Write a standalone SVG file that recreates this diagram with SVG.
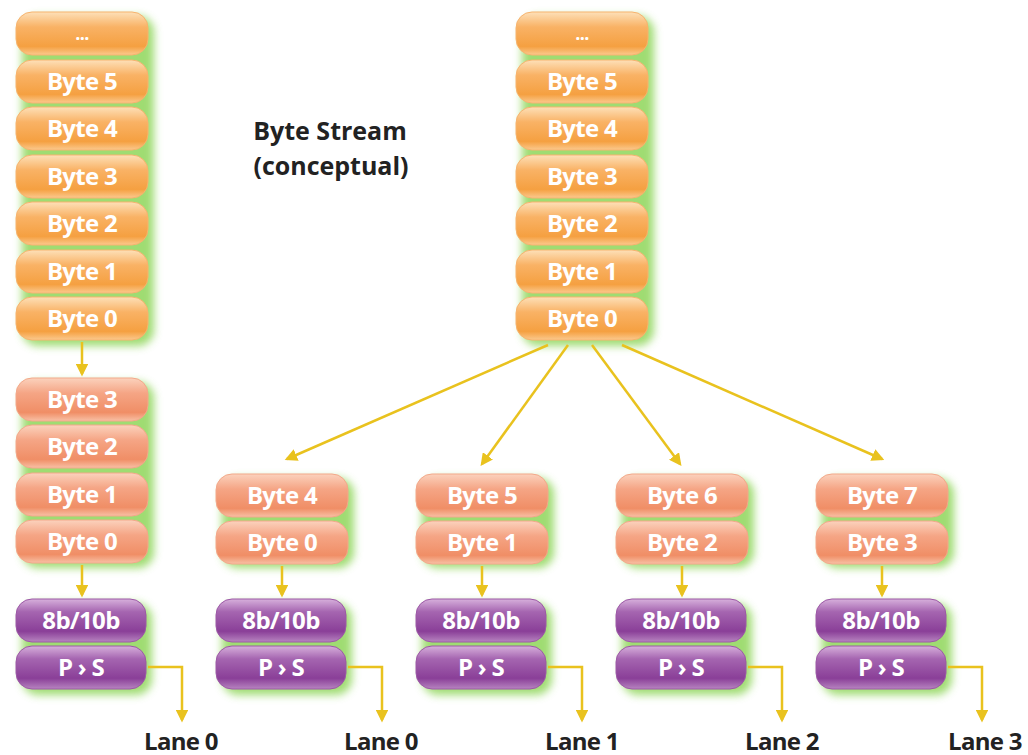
<svg xmlns="http://www.w3.org/2000/svg" width="1028" height="755" viewBox="0 0 1028 755">
<defs>
<linearGradient id="gOr" x1="0" y1="0" x2="0" y2="1">
<stop offset="0" stop-color="#fde0b8"/><stop offset="0.35" stop-color="#f9b265"/><stop offset="0.8" stop-color="#f5a041"/><stop offset="1" stop-color="#fbc98e"/>
</linearGradient>
<linearGradient id="gSa" x1="0" y1="0" x2="0" y2="1">
<stop offset="0" stop-color="#fbd2bd"/><stop offset="0.35" stop-color="#f5a585"/><stop offset="0.8" stop-color="#f08e66"/><stop offset="1" stop-color="#f8c0a5"/>
</linearGradient>
<linearGradient id="gPu" x1="0" y1="0" x2="0" y2="1">
<stop offset="0" stop-color="#d7b0dc"/><stop offset="0.3" stop-color="#a565b0"/><stop offset="0.75" stop-color="#8a3f98"/><stop offset="1" stop-color="#b784c0"/>
</linearGradient>
<filter id="blur" x="-20%" y="-20%" width="140%" height="140%"><feGaussianBlur stdDeviation="4"/></filter>
<marker id="ah" viewBox="0 0 10 10" refX="8" refY="5" markerWidth="5" markerHeight="5" orient="auto" markerUnits="strokeWidth">
<path d="M0,0 L10,5 L0,10 z" fill="#e9c21e"/>
</marker>
<style>
.glow{fill:#8fd65a;filter:url(#blur);opacity:.85}
.or{fill:url(#gOr);stroke:#f7b36e;stroke-width:1}
.sa{fill:url(#gSa);stroke:#f3a88a;stroke-width:1}
.pu{fill:url(#gPu);stroke:#9c58a6;stroke-width:1}
.pt{font-family:"Open Sans","Liberation Sans",sans-serif;font-weight:bold;font-size:24px;fill:#ffffff;text-anchor:middle;letter-spacing:-0.7px}
.lab{font-family:"Open Sans","Liberation Sans",sans-serif;font-weight:bold;font-size:24px;fill:#222;text-anchor:middle;letter-spacing:-0.7px}
.ttl{font-family:"Open Sans","Liberation Sans",sans-serif;font-weight:bold;font-size:25px;fill:#222;text-anchor:middle;letter-spacing:0px}
.con{stroke:#e9c21e;stroke-width:2.5;fill:none}
</style>
</defs>
<rect width="1028" height="755" fill="#ffffff"/>

<g id="glows">
<rect class="glow" x="22" y="16" width="132" height="330" rx="16"/>
<rect class="glow" x="522" y="16" width="132" height="330" rx="16"/>
<rect class="glow" x="22" y="382" width="132" height="186" rx="16"/>
<rect class="glow" x="222" y="478" width="132" height="90" rx="16"/>
<rect class="glow" x="422" y="478" width="132" height="90" rx="16"/>
<rect class="glow" x="622" y="478" width="132" height="90" rx="16"/>
<rect class="glow" x="822" y="478" width="132" height="90" rx="16"/>
<rect class="glow" x="22" y="603" width="130" height="92" rx="16"/>
<rect class="glow" x="222" y="603" width="130" height="92" rx="16"/>
<rect class="glow" x="422" y="603" width="130" height="92" rx="16"/>
<rect class="glow" x="622" y="603" width="130" height="92" rx="16"/>
<rect class="glow" x="822" y="603" width="130" height="92" rx="16"/>
</g>

<g id="stream-left">
<rect class="or" x="16" y="12" width="132" height="43" rx="16"/><text class="pt" x="82" y="40" style="font-size:18px">...</text>
<rect class="or" x="16" y="60" width="132" height="43" rx="16"/><text class="pt" x="82" y="90">Byte 5</text>
<rect class="or" x="16" y="107" width="132" height="43" rx="16"/><text class="pt" x="82" y="137">Byte 4</text>
<rect class="or" x="16" y="155" width="132" height="43" rx="16"/><text class="pt" x="82" y="185">Byte 3</text>
<rect class="or" x="16" y="202" width="132" height="43" rx="16"/><text class="pt" x="82" y="232">Byte 2</text>
<rect class="or" x="16" y="250" width="132" height="43" rx="16"/><text class="pt" x="82" y="280">Byte 1</text>
<rect class="or" x="16" y="297" width="132" height="43" rx="16"/><text class="pt" x="82" y="327">Byte 0</text>
</g>

<g id="stream-right">
<rect class="or" x="516" y="12" width="132" height="43" rx="16"/><text class="pt" x="582" y="40" style="font-size:18px">...</text>
<rect class="or" x="516" y="60" width="132" height="43" rx="16"/><text class="pt" x="582" y="90">Byte 5</text>
<rect class="or" x="516" y="107" width="132" height="43" rx="16"/><text class="pt" x="582" y="137">Byte 4</text>
<rect class="or" x="516" y="155" width="132" height="43" rx="16"/><text class="pt" x="582" y="185">Byte 3</text>
<rect class="or" x="516" y="202" width="132" height="43" rx="16"/><text class="pt" x="582" y="232">Byte 2</text>
<rect class="or" x="516" y="250" width="132" height="43" rx="16"/><text class="pt" x="582" y="280">Byte 1</text>
<rect class="or" x="516" y="297" width="132" height="43" rx="16"/><text class="pt" x="582" y="327">Byte 0</text>
</g>

<g id="title">
<text class="ttl" x="330" y="140">Byte Stream</text>
<text class="ttl" x="331" y="175">(conceptual)</text>
</g>

<g id="lane-left-bytes">
<rect class="sa" x="16" y="378" width="132" height="43" rx="16"/><text class="pt" x="82" y="408">Byte 3</text>
<rect class="sa" x="16" y="425" width="132" height="43" rx="16"/><text class="pt" x="82" y="455">Byte 2</text>
<rect class="sa" x="16" y="473" width="132" height="43" rx="16"/><text class="pt" x="82" y="503">Byte 1</text>
<rect class="sa" x="16" y="520" width="132" height="43" rx="16"/><text class="pt" x="82" y="550">Byte 0</text>
</g>

<g id="lane0-bytes">
<rect class="sa" x="216" y="474" width="132" height="43" rx="16"/><text class="pt" x="282" y="504">Byte 4</text>
<rect class="sa" x="216" y="521" width="132" height="43" rx="16"/><text class="pt" x="282" y="551">Byte 0</text>
</g>
<g id="lane1-bytes">
<rect class="sa" x="416" y="474" width="132" height="43" rx="16"/><text class="pt" x="482" y="504">Byte 5</text>
<rect class="sa" x="416" y="521" width="132" height="43" rx="16"/><text class="pt" x="482" y="551">Byte 1</text>
</g>
<g id="lane2-bytes">
<rect class="sa" x="616" y="474" width="132" height="43" rx="16"/><text class="pt" x="682" y="504">Byte 6</text>
<rect class="sa" x="616" y="521" width="132" height="43" rx="16"/><text class="pt" x="682" y="551">Byte 2</text>
</g>
<g id="lane3-bytes">
<rect class="sa" x="816" y="474" width="132" height="43" rx="16"/><text class="pt" x="882" y="504">Byte 7</text>
<rect class="sa" x="816" y="521" width="132" height="43" rx="16"/><text class="pt" x="882" y="551">Byte 3</text>
</g>

<g id="enc-left">
<rect class="pu" x="16" y="599" width="130" height="43" rx="16"/><text class="pt" x="81" y="629">8b/10b</text>
<rect class="pu" x="16" y="646" width="130" height="43" rx="16"/><text class="pt" x="81" y="676">P › S</text>
</g>
<g id="enc-0">
<rect class="pu" x="216" y="599" width="130" height="43" rx="16"/><text class="pt" x="281" y="629">8b/10b</text>
<rect class="pu" x="216" y="646" width="130" height="43" rx="16"/><text class="pt" x="281" y="676">P › S</text>
</g>
<g id="enc-1">
<rect class="pu" x="416" y="599" width="130" height="43" rx="16"/><text class="pt" x="481" y="629">8b/10b</text>
<rect class="pu" x="416" y="646" width="130" height="43" rx="16"/><text class="pt" x="481" y="676">P › S</text>
</g>
<g id="enc-2">
<rect class="pu" x="616" y="599" width="130" height="43" rx="16"/><text class="pt" x="681" y="629">8b/10b</text>
<rect class="pu" x="616" y="646" width="130" height="43" rx="16"/><text class="pt" x="681" y="676">P › S</text>
</g>
<g id="enc-3">
<rect class="pu" x="816" y="599" width="130" height="43" rx="16"/><text class="pt" x="881" y="629">8b/10b</text>
<rect class="pu" x="816" y="646" width="130" height="43" rx="16"/><text class="pt" x="881" y="676">P › S</text>
</g>

<g id="lane-labels">
<text class="lab" x="181" y="750">Lane 0</text>
<text class="lab" x="381" y="750">Lane 0</text>
<text class="lab" x="582" y="750">Lane 1</text>
<text class="lab" x="782" y="750">Lane 2</text>
<text class="lab" x="985" y="750">Lane 3</text>
</g>

<g id="connectors">
<path class="con" d="M82,342 V374" marker-end="url(#ah)"/>
<path class="con" d="M82,565 V595" marker-end="url(#ah)"/>
<path class="con" d="M282,566 V595" marker-end="url(#ah)"/>
<path class="con" d="M482,566 V595" marker-end="url(#ah)"/>
<path class="con" d="M682,566 V595" marker-end="url(#ah)"/>
<path class="con" d="M882,566 V595" marker-end="url(#ah)"/>
<path class="con" d="M548,345 L287,459" marker-end="url(#ah)"/>
<path class="con" d="M568,345 L482,464" marker-end="url(#ah)"/>
<path class="con" d="M592,345 L680,464" marker-end="url(#ah)"/>
<path class="con" d="M622,345 L882,459" marker-end="url(#ah)"/>
<path class="con" d="M148,667 H182 V720" marker-end="url(#ah)"/>
<path class="con" d="M348,667 H382 V720" marker-end="url(#ah)"/>
<path class="con" d="M548,667 H582 V720" marker-end="url(#ah)"/>
<path class="con" d="M748,667 H782 V720" marker-end="url(#ah)"/>
<path class="con" d="M948,667 H982 V720" marker-end="url(#ah)"/>
</g>
</svg>
